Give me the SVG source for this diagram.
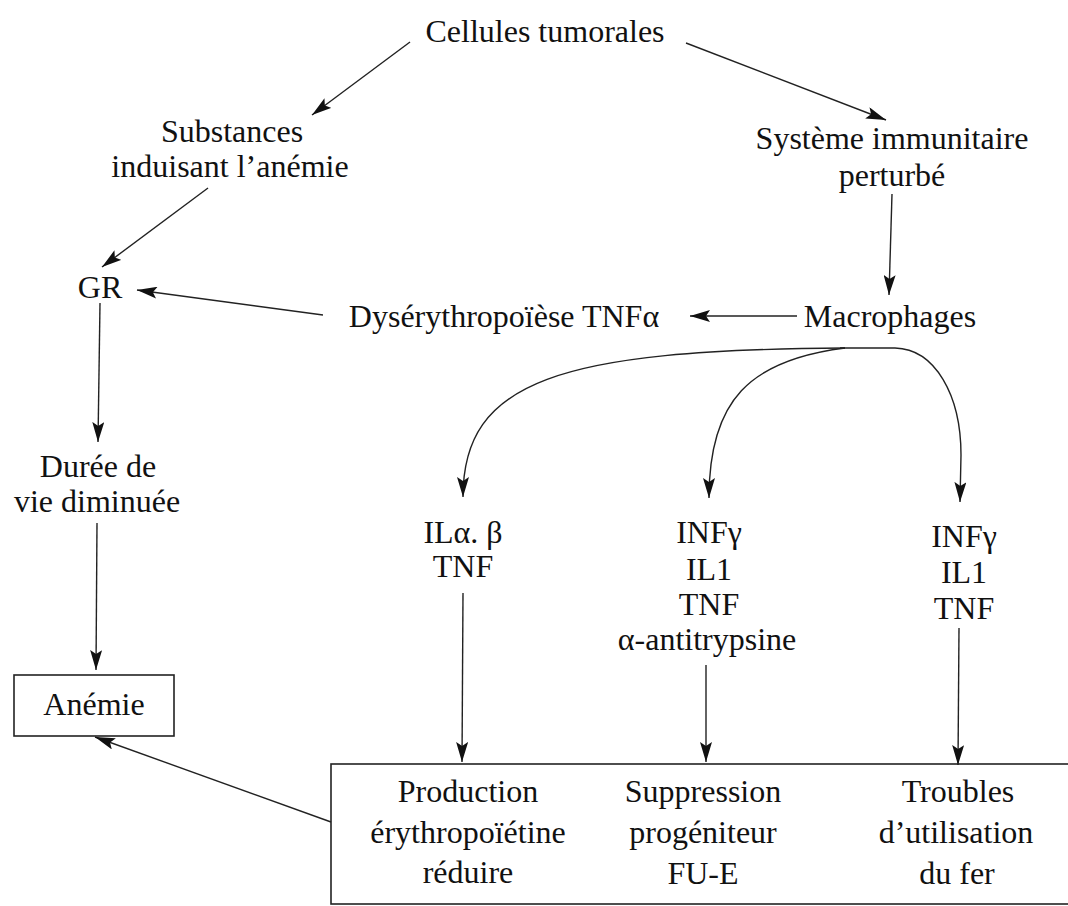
<svg xmlns="http://www.w3.org/2000/svg" width="1068" height="906" viewBox="0 0 1068 906">
<style>
text{font-family:"Liberation Serif","DejaVu Serif",serif;font-size:32px;fill:#111;text-anchor:middle}
.c{fill:none;stroke:#222;stroke-width:1.4}
.box{fill:none;stroke:#222;stroke-width:1.6}
</style>
<defs>
<marker id="ah" viewBox="0 0 20 12" refX="20" refY="6" markerWidth="20" markerHeight="12" markerUnits="userSpaceOnUse" orient="auto">
<path d="M0,0 L20,6 L0,12 L4,6 z" fill="#111"/>
</marker>
</defs>
<rect width="1068" height="906" fill="#fff"/>
<g id="connectors">
<path class="c" d="M410 42 L312 115" marker-end="url(#ah)"/>
<path class="c" d="M686 43 L886 120" marker-end="url(#ah)"/>
<path class="c" d="M208 188 L102 267" marker-end="url(#ah)"/>
<path class="c" d="M892 194 L889 295" marker-end="url(#ah)"/>
<path class="c" d="M797 316 L690 316" marker-end="url(#ah)"/>
<path class="c" d="M323 315 L137 290" marker-end="url(#ah)"/>
<path class="c" d="M100 303 L98 442" marker-end="url(#ah)"/>
<path class="c" d="M97 523 L96 670" marker-end="url(#ah)"/>
<path class="c" d="M331 822 L95 737" marker-end="url(#ah)"/>
<path class="c" d="M845 348 C560 350 463 380 463 497" marker-end="url(#ah)"/>
<path class="c" d="M845 348 C750 360 709 400 709 498" marker-end="url(#ah)"/>
<path class="c" d="M840 348 L895 348 C935 349 961 395 961 455 L960 502" marker-end="url(#ah)"/>
<path class="c" d="M463 593 L462 762" marker-end="url(#ah)"/>
<path class="c" d="M706 665 L706 762" marker-end="url(#ah)"/>
<path class="c" d="M959 628 L958 765" marker-end="url(#ah)"/>
</g>
<g id="cellules"><text x="545" y="42">Cellules tumorales</text></g>
<g id="substances"><text x="232" y="142">Substances</text><text x="230" y="177">induisant l’anémie</text></g>
<g id="systeme"><text x="892" y="149">Système immunitaire</text><text x="892" y="186">perturbé</text></g>
<g id="gr"><text x="100" y="298">GR</text></g>
<g id="dyserythropoiese"><text x="504" y="327">Dysérythropoïèse TNFα</text></g>
<g id="macrophages"><text x="890" y="327">Macrophages</text></g>
<g id="duree"><text x="98" y="477">Durée de</text><text x="97" y="512">vie diminuée</text></g>
<g id="anemie"><rect class="box" x="14" y="675" width="160" height="61"/><text x="94" y="715">Anémie</text></g>
<g id="il-alpha-beta"><text x="463" y="543">ILα. β</text><text x="463" y="577">TNF</text></g>
<g id="infg-mid"><text x="709" y="543">INFγ</text><text x="709" y="580">IL1</text><text x="709" y="615">TNF</text><text x="707" y="650">α-antitrypsine</text></g>
<g id="infg-right"><text x="964" y="547">INFγ</text><text x="964" y="583">IL1</text><text x="964" y="619">TNF</text></g>
<g id="effets">
<rect class="box" x="331" y="764" width="745" height="140"/>
<text x="468" y="802">Production</text><text x="468" y="843">érythropoïétine</text><text x="468" y="883">réduire</text>
<text x="703" y="802">Suppression</text><text x="703" y="843">progéniteur</text><text x="703" y="884">FU-E</text>
<text x="958" y="802">Troubles</text><text x="956" y="843">d’utilisation</text><text x="957" y="884">du fer</text>
</g>
</svg>
